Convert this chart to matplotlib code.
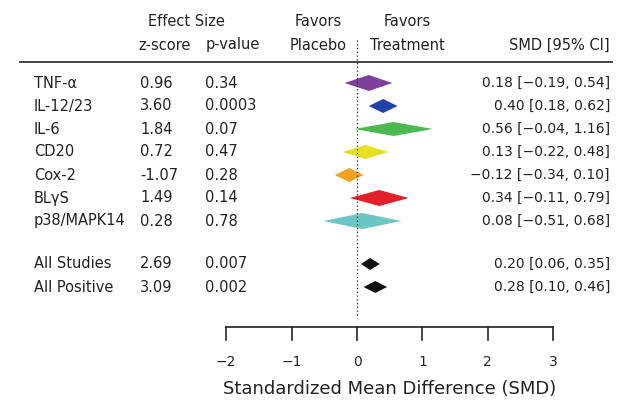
import matplotlib
matplotlib.use("Agg")
import matplotlib.pyplot as plt
from matplotlib.patches import Polygon

names = ["TNF-α", "IL-12/23", "IL-6", "CD20", "Cox-2", "BLγS", "p38/MAPK14", "All Studies", "All Positive"]
zscores = ["0.96", "3.60", "1.84", "0.72", "-1.07", "1.49", "0.28", "2.69", "3.09"]
pvalues = ["0.34", "0.0003", "0.07", "0.47", "0.28", "0.14", "0.78", "0.007", "0.002"]
smd = [0.18, 0.40, 0.56, 0.13, -0.12, 0.34, 0.08, 0.20, 0.28]
lo = [-0.19, 0.18, -0.04, -0.22, -0.34, -0.11, -0.51, 0.06, 0.10]
hi = [0.54, 0.62, 1.16, 0.48, 0.10, 0.79, 0.68, 0.35, 0.46]
colors = ["#7E3E9C", "#2142A8", "#4DB84F", "#E6E022", "#F2A21E", "#E3202A", "#6CC6C6", "#111111", "#111111"]
rows_px = [83, 106, 129, 152, 175, 198, 221, 264, 287]
half_h = [8, 7, 7, 7, 7, 8, 8, 6, 6]
xticks = [-2, -1, 0, 1, 2, 3]

W, H = 625, 404
fig = plt.figure(figsize=(W/100, H/100), dpi=100)
ax = fig.add_axes([0, 0, 1, 1])
ax.axis("off")
x0, sc = 357, 65.4
ax.set_xlim(-x0/sc, (W-x0)/sc)
ax.set_ylim(H, 0)
px = lambda p: (p - x0)/sc
fs = 10.5
c = "#222222"

ax.text(px(186), 22, "Effect Size", ha="center", va="center", fontsize=fs, color=c)
ax.text(px(165), 45, "z-score", ha="center", va="center", fontsize=fs, color=c)
ax.text(px(233), 45, "p-value", ha="center", va="center", fontsize=fs, color=c)
ax.text(px(318), 22, "Favors", ha="center", va="center", fontsize=fs, color=c)
ax.text(px(318), 45, "Placebo", ha="center", va="center", fontsize=fs, color=c)
ax.text(px(407), 22, "Favors", ha="center", va="center", fontsize=fs, color=c)
ax.text(px(407), 45, "Treatment", ha="center", va="center", fontsize=fs, color=c)
ax.text(px(610), 45, "SMD [95% CI]", ha="right", va="center", fontsize=fs, color=c)
ax.plot([px(20), px(612)], [62, 62], color=c, lw=1.2)
ax.plot([0, 0], [40, 318], color=c, lw=0.9, ls=(0, (1, 2)))

for i, n in enumerate(names):
    y = rows_px[i]
    ax.text(px(34), y, n, ha="left", va="center", fontsize=fs, color=c)
    ax.text(px(140), y, zscores[i], ha="left", va="center", fontsize=fs, color=c)
    ax.text(px(205), y, pvalues[i], ha="left", va="center", fontsize=fs, color=c)
    ax.text(px(610), y, f"{smd[i]:.2f} [{lo[i]:.2f}, {hi[i]:.2f}]".replace("-", "−"),
            ha="right", va="center", fontsize=fs - 0.5, color=c)
    h = half_h[i]
    ax.add_patch(Polygon([[lo[i], y], [smd[i], y - h], [hi[i], y], [smd[i], y + h]],
                         closed=True, facecolor=colors[i], edgecolor="none"))

ay = 327
ax.plot([xticks[0], xticks[-1]], [ay, ay], color=c, lw=1.2)
for t in xticks:
    ax.plot([t, t], [ay, ay + 13], color=c, lw=1.2)
    ax.text(t, 362, str(t).replace("-", "−"), ha="center", va="center", fontsize=fs - 0.5, color=c)
ax.text(0.5, 389, "Standardized Mean Difference (SMD)", ha="center", va="center", fontsize=13, color=c)

fig.savefig("out.png", dpi=100)
